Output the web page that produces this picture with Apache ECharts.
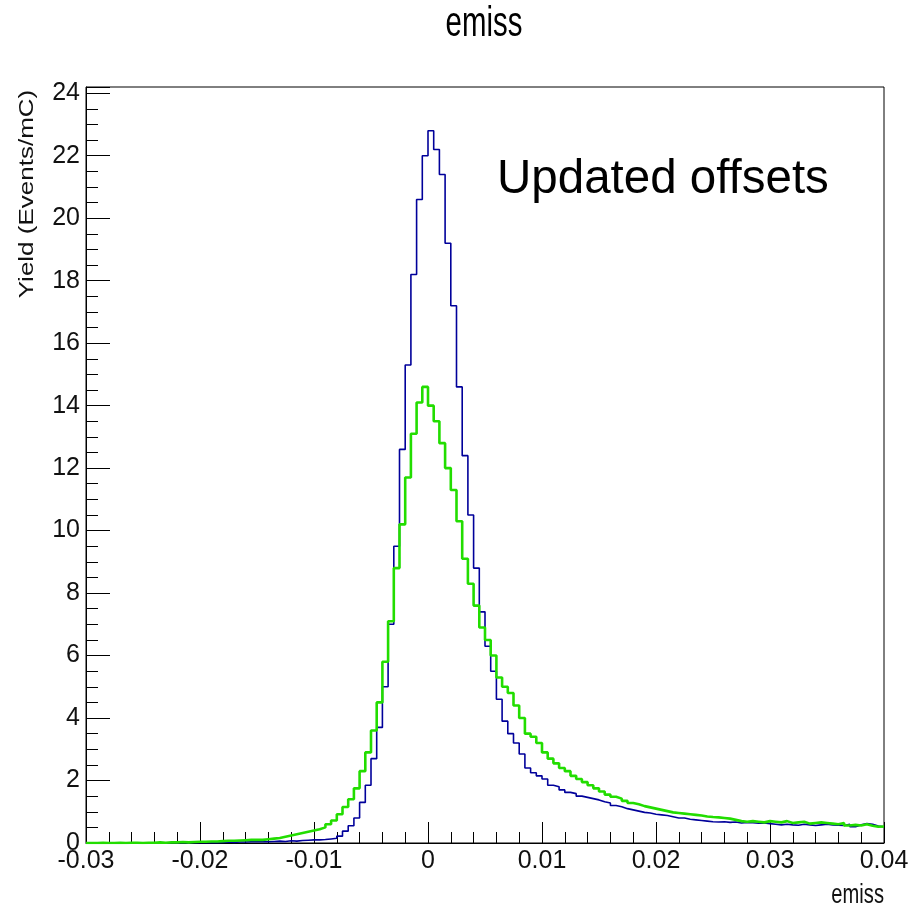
<!DOCTYPE html>
<html>
<head>
<meta charset="utf-8">
<script src="https://cdn.jsdelivr.net/npm/echarts@6/dist/echarts.min.js"></script>
<style>
html,body{margin:0;padding:0;background:#fff;}
#chart{width:908px;height:910px;}
</style>
</head>
<body>
<div id="chart"></div>
<script>
// Histogram binning (x = emiss)
const binStart = -0.03;
const binWidth = 0.0005;

// Blue histogram (Yield, Events/mC), 140 bins from -0.03 to 0.04
const blueCounts = [
  0, 0, 0, 0, 0.01, 0, 0, 0, 0.01, 0,
  0, 0.01, 0, 0, 0.01, 0, 0.01, 0, 0.01, 0.02,
  0.01, 0.02, 0.01, 0.02, 0.03, 0.02, 0.03, 0.03, 0.04, 0.04,
  0.05, 0.04, 0.05, 0.06, 0.05, 0.07, 0.06, 0.08, 0.09, 0.1,
  0.1, 0.11, 0.13, 0.15, 0.22, 0.38, 0.55, 0.8, 1.3, 1.85,
  2.7, 3.7, 5.0, 7.0, 9.5, 12.6, 15.3, 18.2, 20.6, 22.0,
  22.8, 22.2, 21.4, 19.2, 17.2, 14.6, 12.4, 10.5, 8.8, 7.4,
  6.3, 5.5, 4.6, 3.9, 3.5, 3.2, 2.85, 2.4, 2.25, 2.15,
  2.05, 1.85, 1.8, 1.7, 1.62, 1.58, 1.5, 1.46, 1.42, 1.38,
  1.32, 1.28, 1.2, 1.16, 1.1, 1.06, 1.02, 0.98, 0.96, 0.92,
  0.9, 0.88, 0.84, 0.8, 0.8, 0.76, 0.74, 0.72, 0.7, 0.68,
  0.67, 0.68, 0.66, 0.67, 0.64, 0.66, 0.65, 0.63, 0.64, 0.62,
  0.6, 0.58, 0.6, 0.58, 0.57, 0.6, 0.58, 0.56, 0.58, 0.6,
  0.58, 0.57, 0.56, 0.6, 0.52, 0.58, 0.62, 0.6, 0.54, 0.52
];

// Green histogram (Yield, Events/mC), 140 bins from -0.03 to 0.04
const greenCounts = [
  0, 0, 0.01, 0, 0, 0.01, 0, 0.01, 0.01, 0,
  0.01, 0.01, 0.02, 0.01, 0.02, 0.02, 0.03, 0.02, 0.03, 0.04,
  0.04, 0.05, 0.05, 0.06, 0.07, 0.07, 0.08, 0.09, 0.1, 0.1,
  0.1, 0.12, 0.14, 0.16, 0.2, 0.24, 0.28, 0.32, 0.36, 0.4,
  0.44, 0.5, 0.6, 0.72, 0.92, 1.15, 1.4, 1.75, 2.3, 2.9,
  3.6, 4.5, 5.8, 7.1, 8.8, 10.2, 11.7, 13.1, 14.1, 14.6,
  14.0, 13.5, 12.8, 12.0, 11.3, 10.3, 9.1, 8.3, 7.6, 6.9,
  6.5, 6.0, 5.3, 5.0, 4.8, 4.4, 4.0, 3.5, 3.4, 3.2,
  2.9, 2.7, 2.55, 2.4, 2.3, 2.15, 2.05, 1.95, 1.85, 1.75,
  1.65, 1.55, 1.48, 1.42, 1.35, 1.28, 1.24, 1.18, 1.14, 1.1,
  1.06, 1.02, 0.98, 0.96, 0.94, 0.92, 0.9, 0.88, 0.85, 0.83,
  0.82, 0.8, 0.78, 0.74, 0.7, 0.68, 0.7, 0.68, 0.66, 0.7,
  0.68, 0.66, 0.7, 0.64, 0.66, 0.68, 0.62, 0.64, 0.66, 0.64,
  0.62, 0.6, 0.64, 0.56, 0.58, 0.56, 0.6, 0.55, 0.52, 0.53
];

// Axis ticks
const xTicks = [-0.03, -0.02, -0.01, 0, 0.01, 0.02, 0.03, 0.04];
const yTicks = [0, 2, 4, 6, 8, 10, 12, 14, 16, 18, 20, 22, 24];

const titleText = 'emiss';
const xAxisTitle = 'emiss';
const yAxisTitle = 'Yield (Events/mC)';
const noteText = 'Updated offsets';

function toSteps(counts) {
  const pts = [];
  for (let i = 0; i < counts.length; i++) {
    pts.push([+(binStart + i * binWidth).toFixed(5), counts[i]]);
  }
  pts.push([+(binStart + counts.length * binWidth).toFixed(5), counts[counts.length - 1]]);
  return pts;
}

const regular = "'Liberation Sans', Arial, sans-serif";

const chart = echarts.init(document.getElementById('chart'), null, {renderer: 'canvas'});
const xMin = xTicks[0], xMax = xTicks[xTicks.length - 1];
const yMin = 0, yMax = 24.2;

chart.setOption({
  animation: false,
  backgroundColor: '#ffffff',
  grid: {
    left: 86, right: 24, top: 87, bottom: 67,
    outerBoundsMode: 'none', containLabel: false,
    show: true, borderColor: '#000', borderWidth: 1, backgroundColor: 'transparent'
  },
  xAxis: [{
    type: 'value', position: 'bottom', min: xMin, max: xMax, interval: 0.01,
    axisLine: {show: true, onZero: false, lineStyle: {color: '#000', width: 1}},
    axisTick: {show: true, inside: true, length: 21, lineStyle: {color: '#000', width: 1}},
    minorTick: {show: true, splitNumber: 5, length: 11, lineStyle: {color: '#000', width: 1}},
    axisLabel: {
      show: true, margin: 6, color: '#111', fontFamily: regular, fontSize: 25,
      hideOverlap: false,
      formatter: function (v) {
        const r = +v.toFixed(4);
        return xTicks.indexOf(r) >= 0 ? String(r) : '';
      }
    },
    splitLine: {show: false}
  }],
  yAxis: [{
    type: 'value', position: 'left', min: yMin, max: yMax, interval: 2,
    axisLine: {show: true, onZero: false, lineStyle: {color: '#000', width: 1}},
    axisTick: {show: true, inside: true, length: 24, lineStyle: {color: '#000', width: 1}},
    axisLabel: {
      show: true, margin: 6, color: '#111', fontFamily: regular, fontSize: 25,
      formatter: function (v) {
        const r = +v.toFixed(4);
        return yTicks.indexOf(r) >= 0 ? String(r) : '';
      }
    },
    splitLine: {show: false}
  }, {
    type: 'value', position: 'left', min: yMin, max: yMax, interval: 0.5,
    axisLine: {show: false, onZero: false},
    axisTick: {show: true, inside: true, length: 12, lineStyle: {color: '#000', width: 1}},
    axisLabel: {show: false},
    splitLine: {show: false}
  }],
  graphic: [
    {type: 'text', x: 484, y: 24, scaleX: 0.7, style: {text: titleText, font: "42px " + regular, fill: '#000', align: 'center', verticalAlign: 'middle'}},
    {type: 'text', x: 497, y: 180, style: {text: noteText, font: "47.5px " + regular, fill: '#000', align: 'left', verticalAlign: 'middle'}},
    {type: 'text', x: 884, y: 895, scaleX: 0.72, style: {text: xAxisTitle, font: "28px " + regular, fill: '#111', align: 'right', verticalAlign: 'middle'}},
    {type: 'text', x: 28, y: 194, rotation: Math.PI / 2, scaleY: 0.75, style: {text: yAxisTitle, font: "26px " + regular, fill: '#111', align: 'center', verticalAlign: 'middle'}}
  ],
  series: [{
    name: 'blue', type: 'line', step: 'end', showSymbol: false, symbol: 'none',
    xAxisIndex: 0, yAxisIndex: 0,
    lineStyle: {color: '#00009a', width: 1.6},
    data: toSteps(blueCounts), z: 3
  }, {
    name: 'green', type: 'line', step: 'end', showSymbol: false, symbol: 'none',
    xAxisIndex: 0, yAxisIndex: 0,
    lineStyle: {color: '#22dd00', width: 2.6},
    data: toSteps(greenCounts), z: 4
  }]
});
</script>
</body>
</html>
